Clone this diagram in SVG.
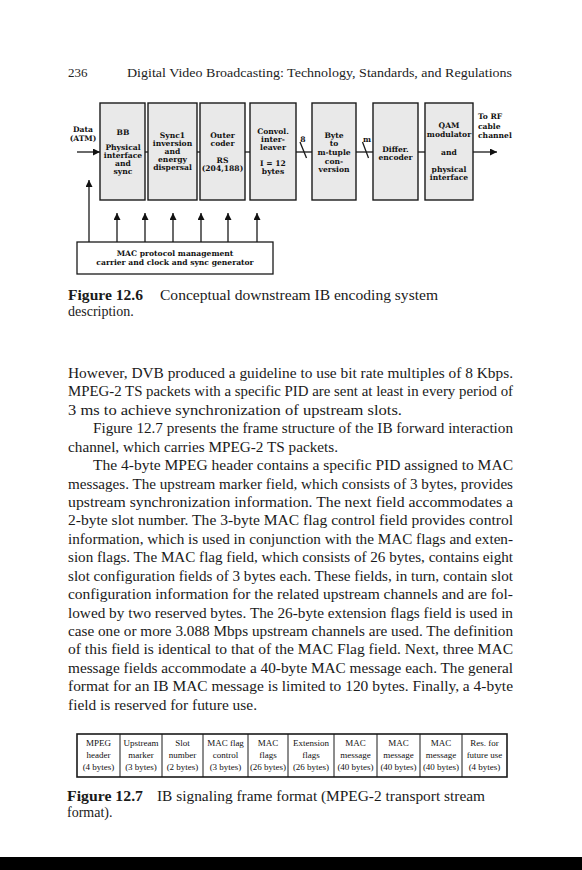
<svg xmlns="http://www.w3.org/2000/svg" width="582" height="870" viewBox="0 0 582 870">
<style>
.blk{fill:#e9e9e9;stroke:#1a1a1a;stroke-width:1.4}
.dg{font-family:"DejaVu Serif","Liberation Serif",serif;font-weight:bold;font-size:7.6px;fill:#111;text-anchor:middle}
.dl{font-family:"DejaVu Serif","Liberation Serif",serif;font-weight:bold;font-size:7.6px;fill:#111}
.ln{stroke:#1a1a1a;stroke-width:1.3;fill:none}
.body{font-family:"Liberation Serif",serif;font-size:14px;fill:#1a1a1a}
.cap{font-family:"Liberation Serif",serif;font-size:14px;fill:#1a1a1a}
.capb{font-family:"Liberation Serif",serif;font-size:14px;font-weight:bold;fill:#1a1a1a}
.hd{font-family:"Liberation Serif",serif;font-size:13px;fill:#222}
.tb{font-family:"Liberation Serif",serif;font-size:9px;fill:#111;text-anchor:middle}
</style>
<defs>
<marker id="ah" viewBox="0 0 10 10" refX="10" refY="5" markerWidth="7" markerHeight="7" markerUnits="userSpaceOnUse" orient="auto">
<path d="M0,0 L10,5 L0,10 z" fill="#111"/>
</marker>
</defs>
<rect x="0" y="0" width="582" height="870" fill="#fff"/>

<!-- page header -->
<text class="hd" x="68" y="77">236</text>
<text class="hd" x="127" y="77" textLength="385" lengthAdjust="spacingAndGlyphs">Digital Video Broadcasting: Technology, Standards, and Regulations</text>

<!-- connectors -->
<g id="connectors">
<line class="ln" x1="77" y1="152" x2="100" y2="152" marker-end="url(#ah)"/>
<line class="ln" x1="145" y1="152" x2="148" y2="152"/>
<line class="ln" x1="197" y1="152" x2="200" y2="152"/>
<line class="ln" x1="245" y1="152" x2="250" y2="152"/>
<line class="ln" x1="296" y1="152" x2="312" y2="152"/>
<line class="ln" x1="300" y1="142" x2="306.5" y2="158"/>
<line class="ln" x1="356" y1="152" x2="373" y2="152"/>
<line class="ln" x1="362.5" y1="142" x2="368.5" y2="158"/>
<line class="ln" x1="418" y1="152" x2="425" y2="152"/>
<line class="ln" x1="473" y1="152" x2="497" y2="152" marker-end="url(#ah)"/>
<line class="ln" x1="89" y1="242" x2="89" y2="180" marker-end="url(#ah)"/>
<line class="ln" x1="117" y1="242" x2="117" y2="213" marker-end="url(#ah)"/>
<line class="ln" x1="145" y1="242" x2="145" y2="213" marker-end="url(#ah)"/>
<line class="ln" x1="173" y1="242" x2="173" y2="213" marker-end="url(#ah)"/>
<line class="ln" x1="201" y1="242" x2="201" y2="213" marker-end="url(#ah)"/>
<line class="ln" x1="228" y1="242" x2="228" y2="213" marker-end="url(#ah)"/>
<line class="ln" x1="257" y1="242" x2="257" y2="213" marker-end="url(#ah)"/>
<text class="dg" x="303" y="142">8</text>
<text class="dg" x="367" y="142">m</text>
</g>

<g id="input">
<text class="dg" x="83" y="132">Data</text>
<text class="dg" x="83" y="141">(ATM)</text>
</g>

<g id="bb">
<rect class="blk" x="100" y="103" width="45" height="97"/>
<text class="dg" x="123" y="135">BB</text>
<text class="dg" x="123" y="150">Physical</text>
<text class="dg" x="123" y="158">interface</text>
<text class="dg" x="123" y="166">and</text>
<text class="dg" x="123" y="174">sync</text>
</g>
<g id="sync1">
<rect class="blk" x="148" y="103" width="49" height="97"/>
<text class="dg" x="172.5" y="138">Sync1</text>
<text class="dg" x="172.5" y="146">inversion</text>
<text class="dg" x="172.5" y="154">and</text>
<text class="dg" x="172.5" y="162">energy</text>
<text class="dg" x="172.5" y="170">dispersal</text>
</g>
<g id="outer">
<rect class="blk" x="200" y="103" width="45" height="97"/>
<text class="dg" x="222.5" y="137.5">Outer</text>
<text class="dg" x="222.5" y="146">coder</text>
<text class="dg" x="222.5" y="162.5">RS</text>
<text class="dg" x="222.5" y="170.5">(204,188)</text>
</g>
<g id="convol">
<rect class="blk" x="250" y="103" width="46" height="97"/>
<text class="dg" x="273" y="134">Convol.</text>
<text class="dg" x="273" y="142">inter-</text>
<text class="dg" x="273" y="150">leaver</text>
<text class="dg" x="273" y="166">I = 12</text>
<text class="dg" x="273" y="174">bytes</text>
</g>
<g id="byte">
<rect class="blk" x="312" y="103" width="44" height="97"/>
<text class="dg" x="334" y="137.5">Byte</text>
<text class="dg" x="334" y="146">to</text>
<text class="dg" x="334" y="154.5">m-tuple</text>
<text class="dg" x="334" y="163.5">con-</text>
<text class="dg" x="334" y="172">version</text>
</g>
<g id="differ">
<rect class="blk" x="373" y="103" width="45" height="97"/>
<text class="dg" x="395.5" y="152">Differ.</text>
<text class="dg" x="395.5" y="160">encoder</text>
</g>
<g id="qam">
<rect class="blk" x="425" y="103" width="48" height="97"/>
<text class="dg" x="449" y="128">QAM</text>
<text class="dg" x="449" y="136.5">modulator</text>
<text class="dg" x="449" y="155">and</text>
<text class="dg" x="449" y="171.5">physical</text>
<text class="dg" x="449" y="180">interface</text>
</g>
<g id="output">
<text class="dl" x="478" y="119">To RF</text>
<text class="dl" x="478" y="128.5">cable</text>
<text class="dl" x="478" y="138">channel</text>
</g>
<g id="mac">
<rect x="77" y="242" width="196" height="32" fill="#fff" stroke="#1a1a1a" stroke-width="1.3"/>
<text class="dg" x="175" y="256">MAC protocol management</text>
<text class="dg" x="175" y="265">carrier and clock and sync generator</text>
</g>

<!-- caption 12.6 -->
<text class="capb" x="68" y="300" textLength="75" lengthAdjust="spacingAndGlyphs">Figure 12.6</text>
<text class="cap" x="160" y="300" textLength="278" lengthAdjust="spacingAndGlyphs">Conceptual downstream IB encoding system</text>
<text class="cap" x="68" y="316">description.</text>

<!-- body text -->
<g id="bodytext" class="body">
<text x="68" y="378" textLength="445" lengthAdjust="spacingAndGlyphs">However, DVB produced a guideline to use bit rate multiples of  8 Kbps.</text>
<text x="68" y="396.4" textLength="445" lengthAdjust="spacingAndGlyphs">MPEG-2 TS packets with a specific PID are sent at least in every period of</text>
<text x="68" y="414.8" textLength="334" lengthAdjust="spacingAndGlyphs">3 ms to achieve synchronization of upstream slots.</text>
<text x="93" y="433.3" textLength="420" lengthAdjust="spacingAndGlyphs">Figure 12.7 presents the frame structure of the IB forward interaction</text>
<text x="68" y="451.7" textLength="270" lengthAdjust="spacingAndGlyphs">channel, which carries MPEG-2 TS packets.</text>
<text x="93" y="470.1" textLength="420" lengthAdjust="spacingAndGlyphs">The 4-byte MPEG header contains a specific PID assigned to MAC</text>
<text x="68" y="488.5" textLength="445" lengthAdjust="spacingAndGlyphs">messages. The upstream marker field, which consists of 3 bytes, provides</text>
<text x="68" y="506.9" textLength="445" lengthAdjust="spacingAndGlyphs">upstream synchronization information. The next field accommodates a</text>
<text x="68" y="525.4" textLength="445" lengthAdjust="spacingAndGlyphs">2-byte slot number. The 3-byte MAC flag control field provides control</text>
<text x="68" y="543.8" textLength="445" lengthAdjust="spacingAndGlyphs">information, which is used in conjunction with the MAC flags and exten-</text>
<text x="68" y="562.2" textLength="445" lengthAdjust="spacingAndGlyphs">sion flags. The MAC flag field, which consists of 26 bytes, contains eight</text>
<text x="68" y="580.6" textLength="445" lengthAdjust="spacingAndGlyphs">slot configuration fields of 3 bytes each. These fields, in turn, contain slot</text>
<text x="68" y="599" textLength="445" lengthAdjust="spacingAndGlyphs">configuration information for the related upstream channels and are fol-</text>
<text x="68" y="617.5" textLength="445" lengthAdjust="spacingAndGlyphs">lowed by two reserved bytes. The 26-byte extension flags field is used in</text>
<text x="68" y="635.9" textLength="445" lengthAdjust="spacingAndGlyphs">case one or more 3.088 Mbps upstream channels are used. The definition</text>
<text x="68" y="654.3" textLength="445" lengthAdjust="spacingAndGlyphs">of this field is identical to that of the MAC Flag field. Next, three MAC</text>
<text x="68" y="672.7" textLength="445" lengthAdjust="spacingAndGlyphs">message fields accommodate a 40-byte MAC message each. The general</text>
<text x="68" y="691.1" textLength="445" lengthAdjust="spacingAndGlyphs">format for an IB MAC message is limited to 120 bytes. Finally, a 4-byte</text>
<text x="68" y="709.5" textLength="189" lengthAdjust="spacingAndGlyphs">field is reserved for future use.</text>
</g>

<!-- table 12.7 -->
<g id="frame">
<rect x="77" y="734" width="430" height="43" fill="#fff" stroke="#1a1a1a" stroke-width="1.6"/>
<g stroke="#1a1a1a" stroke-width="1">
<line x1="120" y1="734" x2="120" y2="777"/>
<line x1="162" y1="734" x2="162" y2="777"/>
<line x1="203" y1="734" x2="203" y2="777"/>
<line x1="248" y1="734" x2="248" y2="777"/>
<line x1="288" y1="734" x2="288" y2="777"/>
<line x1="334" y1="734" x2="334" y2="777"/>
<line x1="377" y1="734" x2="377" y2="777"/>
<line x1="420" y1="734" x2="420" y2="777"/>
<line x1="462" y1="734" x2="462" y2="777"/>
</g>
<g class="tb">
<text x="98.5" y="746">MPEG</text><text x="98.5" y="758">header</text><text x="98.5" y="770">(4 bytes)</text>
<text x="141" y="746">Upstream</text><text x="141" y="758">marker</text><text x="141" y="770">(3 bytes)</text>
<text x="182.5" y="746">Slot</text><text x="182.5" y="758">number</text><text x="182.5" y="770">(2 bytes)</text>
<text x="225.5" y="746">MAC flag</text><text x="225.5" y="758">control</text><text x="225.5" y="770">(3 bytes)</text>
<text x="268" y="746">MAC</text><text x="268" y="758">flags</text><text x="268" y="770">(26 bytes)</text>
<text x="311" y="746">Extension</text><text x="311" y="758">flags</text><text x="311" y="770">(26 bytes)</text>
<text x="355.5" y="746">MAC</text><text x="355.5" y="758">message</text><text x="355.5" y="770">(40 bytes)</text>
<text x="398.5" y="746">MAC</text><text x="398.5" y="758">message</text><text x="398.5" y="770">(40 bytes)</text>
<text x="441" y="746">MAC</text><text x="441" y="758">message</text><text x="441" y="770">(40 bytes)</text>
<text x="484.5" y="746">Res. for</text><text x="484.5" y="758">future use</text><text x="484.5" y="770">(4 bytes)</text>
</g>
</g>

<!-- caption 12.7 -->
<text class="capb" x="67" y="801" textLength="76" lengthAdjust="spacingAndGlyphs">Figure 12.7</text>
<text class="cap" x="157" y="801" textLength="328" lengthAdjust="spacingAndGlyphs">IB signaling frame format (MPEG-2 transport stream</text>
<text class="cap" x="67" y="817">format).</text>

<rect x="0" y="857" width="582" height="13" fill="#000"/>
</svg>
